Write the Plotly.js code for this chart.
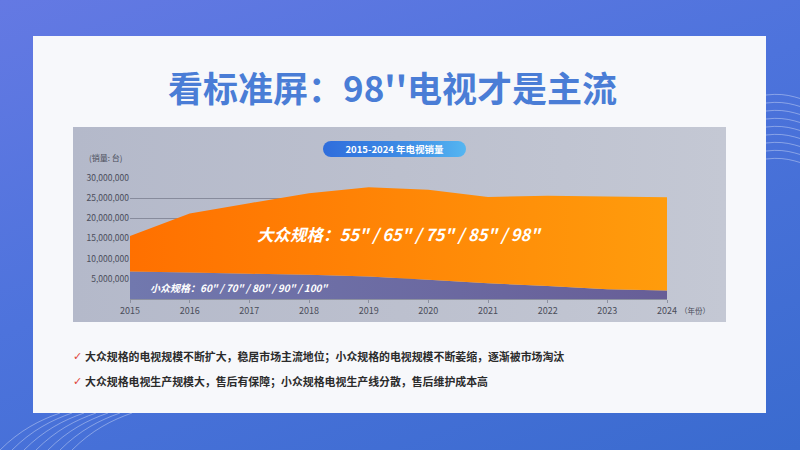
<!DOCTYPE html>
<html>
<head>
<meta charset="utf-8">
<script src="https://cdn.plot.ly/plotly-3.0.1.min.js"></script>
<style>
html, body { margin: 0; padding: 0; width: 800px; height: 450px; overflow: hidden; }
#bg { position: absolute; left: 0; top: 0; width: 800px; height: 450px;
      background: linear-gradient(160deg, #6479e3 0%, #4d73dc 45%, #3a6bcf 100%); }
#bg svg { position: absolute; left: 0; top: 0; }
#card { position: absolute; left: 33px; top: 36px; width: 733px; height: 377px; background: #f7f8fb; }
#panel { position: absolute; left: 73px; top: 127px; width: 653px; height: 195px;
         background: linear-gradient(90deg, #b4b9ca 0%, #bcc0ce 50%, #c4c8d4 100%); }
#pill { position: absolute; left: 323px; top: 141px; width: 143px; height: 16px; border-radius: 8px;
        background: linear-gradient(90deg, #2f6ddc 0%, #3f8ee6 60%, #55b6f1 100%);
        color: #fff; font: bold 9.5px "Noto Sans CJK SC", sans-serif; line-height: 16px; text-align: center; }
#plot { position: absolute; left: 0; top: 0; width: 800px; height: 450px; }
</style>
</head>
<body>
<div id="bg">
  <svg width="800" height="450">
    <g fill="none" stroke="#ffffff" stroke-opacity="0.35" stroke-width="1">
      <path d="M766 95 C790 92 800 100 820 104"/>
      <path d="M766 103 C790 100 800 108 820 112"/>
      <path d="M766 111 C790 108 800 116 820 120"/>
      <path d="M766 119 C790 116 800 124 820 128"/>
      <path d="M766 127 C790 124 800 132 820 136"/>
      <path d="M766 135 C790 132 800 140 820 144"/>
      <path d="M766 143 C790 140 800 148 820 152"/>
      <path d="M766 151 C790 148 800 156 820 160"/>
      <path d="M766 159 C790 156 800 164 820 168"/>
      <path d="M0 450 C20 430 40 420 60 413"/>
      <path d="M12 450 C32 430 52 420 72 413"/>
      <path d="M24 450 C44 430 64 420 84 413"/>
      <path d="M36 450 C56 430 76 420 96 413"/>
      <path d="M48 450 C68 430 88 420 108 413"/>
      <path d="M60 450 C80 430 100 420 120 413"/>
      <path d="M72 450 C92 430 112 420 132 413"/>
    </g>
  </svg>
</div>
<div id="card"></div>
<div id="panel"></div>
<div id="plot"></div>
<div id="pill">2015-2024 年电视销量</div>
<script>
var years = [2015, 2016, 2017, 2018, 2019, 2020, 2021, 2022, 2023, 2024];
// 小众规格 (60"/70"/80"/90"/100")
var nicheSales = [6800000, 6600000, 6250000, 6000000, 5600000, 4750000, 3900000, 3250000, 2400000, 2100000];
// 大众规格 (55"/65"/75"/85"/98")
var massSales = [8800000, 14600000, 17500000, 20200000, 22100000, 22350000, 21400000, 22350000, 23000000, 23100000];
var yTicks = [5000000, 10000000, 15000000, 20000000, 25000000, 30000000];

var titleText = "看标准屏：98''电视才是主流";
var massLabel = '大众规格：55" / 65" / 75" / 85" / 98"';
var nicheLabel = '小众规格：60" / 70" / 80" / 90" / 100"';
var bullets = [
  '大众规格的电视规模不断扩大，稳居市场主流地位；小众规格的电视规模不断萎缩，逐渐被市场淘汰',
  '大众规格电视生产规模大，售后有保障；小众规格电视生产线分散，售后维护成本高'
];

var W = 800, H = 450;
var FONT = '"Noto Sans CJK SC", "Noto Sans", sans-serif';
function px(x) { return x / W; }
function py(y) { return 1 - y / H; }
function note(x, y, text, font, anchor) {
  return {xref: 'paper', yref: 'paper', x: px(x), y: py(y), text: text, showarrow: false,
          xanchor: anchor || 'center', yanchor: 'middle', font: font};
}

var niche = {
  x: years, y: nicheSales, name: '小众规格',
  stackgroup: 'one', mode: 'none', hoverinfo: 'skip',
  fillcolor: '#6d6fa6',
  fillgradient: {type: 'horizontal', colorscale: [[0, '#7178ae'], [1, '#675e97']]}
};
var mass = {
  x: years, y: massSales, name: '大众规格',
  stackgroup: 'one', mode: 'none', hoverinfo: 'skip',
  fillcolor: '#ff8400',
  fillgradient: {type: 'horizontal', colorscale: [[0, '#ff7000'], [1, '#ff9c0c']]}
};

var annotations = [
  note(392, 86, titleText, {family: FONT, size: 35, color: '#4a7dd6', weight: 'bold'}),
  note(105, 157, '(销量: 台)', {family: FONT, size: 8, color: '#4a4d5a'}),
  note(678, 310, '（年份）', {family: FONT, size: 7.5, color: '#4a4d5a'}, 'left'),
  note(399, 234, massLabel, {family: FONT, size: 16.5, color: '#ffffff', weight: 'bold', style: 'italic'}),
  note(148, 287, nicheLabel, {family: FONT, size: 10, color: '#ffffff', weight: 'bold', style: 'italic'}, 'left')
];
var bulletY = [356, 381];
for (var i = 0; i < bullets.length; i++) {
  annotations.push(note(71, bulletY[i], '✓', {family: 'DejaVu Sans', size: 11, color: '#e0473b', weight: 'bold'}, 'left'));
  annotations.push(note(83, bulletY[i], bullets[i], {family: FONT, size: 10.9, color: '#2b2b2b', weight: 'bold'}, 'left'));
}

var layout = {
  width: W, height: H,
  margin: {l: 0, r: 0, t: 0, b: 0},
  paper_bgcolor: 'rgba(0,0,0,0)',
  plot_bgcolor: 'rgba(0,0,0,0)',
  showlegend: false,
  font: {family: FONT},
  xaxis: {
    domain: [px(130), px(667)], range: [2015, 2024],
    tickvals: years, ticks: 'outside', ticklen: 3, tickcolor: '#8d91a0',
    showline: true, linecolor: '#8d91a0', linewidth: 1,
    showgrid: false, zeroline: false,
    tickfont: {family: FONT, size: 9, color: '#4a4d5a'}
  },
  yaxis: {
    domain: [py(299), py(178)], range: [0, 30000000],
    tickvals: yTicks, tickformat: ',d',
    showgrid: true, gridcolor: '#878b9c', gridwidth: 1,
    zeroline: false, showline: false,
    tickfont: {family: FONT, size: 8.5, color: '#4a4d5a'}
  },
  annotations: annotations
};

Plotly.newPlot('plot', [niche, mass], layout, {staticPlot: true, displayModeBar: false});
</script>
</body>
</html>
